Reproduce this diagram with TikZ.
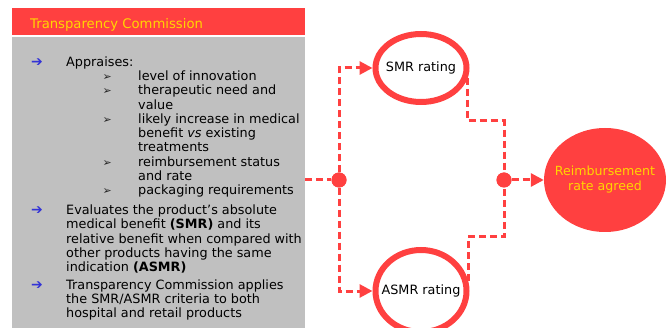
\documentclass[tikz,border=0pt]{standalone}
\usepackage{fontspec}
\setmainfont{DejaVu Sans}
\usetikzlibrary{arrows.meta,shapes.geometric}
\definecolor{tcred}{RGB}{255,64,64}
\definecolor{panelgrey}{RGB}{192,192,192}
\definecolor{tcyellow}{RGB}{255,214,0}
\definecolor{bulletblue}{RGB}{51,51,214}

\begin{document}
\begin{tikzpicture}[x=1pt,y=-1pt,
  % multi-line text blocks are placed by the baseline of their last line
  body/.style={font=\fontsize{12.8}{14.3}\selectfont, align=left, inner sep=0, anchor=base west},
  mainbullet/.style={font=\fontsize{14}{14}\selectfont, text=bulletblue, inner sep=0, anchor=base west},
  subbullet/.style={font=\fontsize{11}{11}\selectfont, text=black!85, inner sep=0, anchor=base west},
  rating/.style={ellipse, draw=tcred, line width=6pt, inner sep=0, minimum width=91pt},
  ratinglabel/.style={font=\fontsize{12.8}{14.3}\selectfont, text=black},
  conn/.style={draw=tcred, line width=3pt, dash pattern=on 7pt off 4pt},
  tip/.style={-{Triangle[length=13pt,width=13pt]}},
  joint/.style={circle, fill=tcred, inner sep=0, minimum size=15pt}
]
\useasboundingbox (0,0) rectangle (671,328);

% left panel: red title bar and grey text area
\node[fill=tcred, anchor=north west, minimum width=293pt, minimum height=27pt, inner sep=0] (header) at (12,8) {};
\node[fill=panelgrey, anchor=north west, minimum width=293pt, minimum height=300pt, inner sep=0] (panel) at (12,37) {};
\node[body, text=tcyellow, font=\fontsize{13.2}{14}\selectfont] (title) at (30,28.5) {Transparency Commission};

% first item with its sub-list
\node[mainbullet] (b1) at (31,66.5) {➔};
\node[body] (appr) at (66,66.5) {Appraises:};
\node[subbullet] (s1) at (102.5,80.5) {➢};
\node[body] (t1) at (138,80.5) {level of innovation};
\node[subbullet] (s2) at (102.5,94.8) {➢};
\node[body] (t2) at (138,109.1) {therapeutic need and\\value};
\node[subbullet] (s3) at (102.5,123.4) {➢};
\node[body] (t3) at (138,152) {likely increase in medical\\benefit \textit{vs} existing\\treatments};
\node[subbullet] (s4) at (102.5,166.3) {➢};
\node[body] (t4) at (138,180.6) {reimbursement status\\and rate};
\node[subbullet] (s5) at (102.5,194.9) {➢};
\node[body] (t5) at (138,194.9) {packaging requirements};

% second and third items
\node[mainbullet] (b2) at (31,214.5) {➔};
\node[body] (eval) at (66,271.7) {Evaluates the product’s absolute\\medical benefit \textbf{(SMR)} and its\\relative benefit when compared with\\other products having the same\\indication \textbf{(ASMR)}};
\node[mainbullet] (b3) at (31,289) {➔};
\node[body] (apply) at (66,317.6) {Transparency Commission applies\\the SMR/ASMR criteria to both\\hospital and retail products};

% ratings and outcome
\node[rating, minimum height=68pt, label={[ratinglabel]center:SMR rating}] (smr) at (421,68) {};
\node[rating, minimum height=82pt, label={[ratinglabel]center:ASMR rating}] (asmr) at (421,291) {};
\node[ellipse, fill=tcred, inner sep=0, minimum width=122pt, minimum height=104pt,
      label={[align=center, text=tcyellow, font=\fontsize{12.6}{15}\selectfont]center:Reimbursement\\rate agreed}] (reimb) at (605,180) {};

% junctions
\node[joint] (d1) at (339,180) {};
\node[joint] (d2) at (504,180) {};
\coordinate (j1) at (504,121);
\coordinate (j2) at (504,237);

% dashed connectors
\draw[conn] (panel.east |- d1) -- (d1);
\draw[conn, tip] (d1) |- (smr.west);
\draw[conn, tip] (d1) |- (asmr.west);
\draw[conn] (smr.-12) |- (j1) -- (d2);
\draw[conn] (asmr.12) |- (j2) -- (d2);
\draw[conn, tip] (d2) -- (reimb.west);
\node[joint] at (d1) {};
\node[joint] at (d2) {};
\end{tikzpicture}
\end{document}
